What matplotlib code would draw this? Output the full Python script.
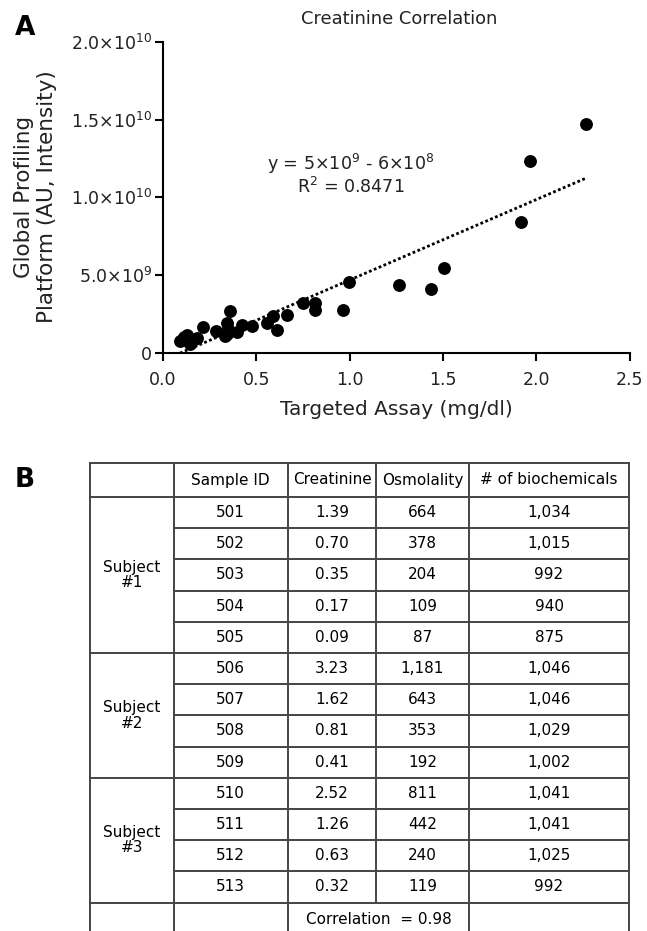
"""Creatinine correlation scatter (panel A) and sample table (panel B)."""

import matplotlib

matplotlib.use("Agg")
import matplotlib.pyplot as plt
import numpy as np

# ---- panel A data ----
assay_mgdl = [2.266, 1.966, 1.916, 1.507, 1.435, 1.266, 0.995, 0.962, 0.814,
              0.814, 0.752, 0.662, 0.587, 0.555, 0.612, 0.475, 0.421, 0.359,
              0.341, 0.344, 0.395, 0.284, 0.216, 0.127, 0.100, 0.145, 0.180,
              0.091, 0.115, 0.160, 0.350, 0.330]
intensity = [14.71e9, 12.35e9, 8.39e9, 5.46e9, 4.13e9, 4.37e9, 4.58e9, 2.76e9,
             3.19e9, 2.76e9, 3.23e9, 2.44e9, 2.35e9, 1.95e9, 1.48e9, 1.72e9,
             1.80e9, 2.68e9, 1.92e9, 1.20e9, 1.33e9, 1.41e9, 1.69e9, 1.16e9,
             0.83e9, 0.60e9, 0.94e9, 0.75e9, 1.00e9, 0.85e9, 1.55e9, 1.10e9]
fit_slope = 5.17e9
fit_intercept = -4.8e8
equation = "y = 5×10$^{9}$ - 6×10$^{8}$"
r_squared = "R$^{2}$ = 0.8471"

x_ticks = [0.0, 0.5, 1.0, 1.5, 2.0, 2.5]
y_ticks = [0, 5e9, 1e10, 1.5e10, 2e10]
y_tick_labels = ["0", "5.0×10$^{9}$", "1.0×10$^{10}$", "1.5×10$^{10}$",
                 "2.0×10$^{10}$"]

# ---- panel B data ----
header = ["", "Sample ID", "Creatinine", "Osmolality", "# of biochemicals"]
subjects = ["Subject\n#1", "Subject\n#2", "Subject\n#3"]
subject_rows = [5, 4, 4]
sample_ids = ["501", "502", "503", "504", "505", "506", "507", "508", "509",
              "510", "511", "512", "513"]
creatinine = ["1.39", "0.70", "0.35", "0.17", "0.09", "3.23", "1.62", "0.81",
              "0.41", "2.52", "1.26", "0.63", "0.32"]
osmolality = ["664", "378", "204", "109", "87", "1,181", "643", "353", "192",
              "811", "442", "240", "119"]
n_biochem = ["1,034", "1,015", "992", "940", "875", "1,046", "1,046", "1,029",
             "1,002", "1,041", "1,041", "1,025", "992"]
correlation = "Correlation  = 0.98"

W, H = 647, 931
TXT = "#222222"

fig = plt.figure(figsize=(W / 100, H / 100), dpi=100)

# ---------------- panel A ----------------
ax = fig.add_axes([163 / W, 1 - 353 / H, (629.7 - 163) / W, (353 - 41.7) / H])
ax.scatter(assay_mgdl, intensity, s=86, color="black", zorder=3, linewidths=0)
fx = np.array([min(assay_mgdl), max(assay_mgdl)])
ax.plot(fx, fit_slope * fx + fit_intercept, color="black", lw=2,
        linestyle=(0, (1, 0.9)), zorder=2)

ax.set_xlim(0, 2.5)
ax.set_ylim(0, 2e10)
ax.set_xticks(x_ticks)
ax.set_xticklabels([f"{t:.1f}" for t in x_ticks])
ax.set_yticks(y_ticks)
ax.set_yticklabels(y_tick_labels)
for side in ("top", "right"):
    ax.spines[side].set_visible(False)
for side in ("left", "bottom"):
    ax.spines[side].set_linewidth(1.5)
ax.tick_params(axis="both", direction="out", length=6, width=1.5,
               labelsize=12.5, labelcolor=TXT)
ax.tick_params(axis="x", pad=7)
ax.tick_params(axis="y", pad=2)
ax.set_xlabel("Targeted Assay (mg/dl)", fontsize=14.5, color=TXT, labelpad=8)

ax.text(0.403, 0.608, equation, transform=ax.transAxes, ha="center",
        va="center", fontsize=12.6, color=TXT)
ax.text(0.403, 0.533, r_squared, transform=ax.transAxes, ha="center",
        va="center", fontsize=12.6, color=TXT)

fig.text(399 / W, 1 - 19 / H, "Creatinine Correlation", ha="center",
         va="center", fontsize=12.9, color=TXT)
fig.text(24 / W, 1 - 197 / H, "Global Profiling", rotation=90, ha="center",
         va="center", fontsize=15.5, color=TXT)
fig.text(47 / W, 1 - 197 / H, "Platform (AU, Intensity)", rotation=90,
         ha="center", va="center", fontsize=15.5, color=TXT)
fig.text(25 / W, 1 - 28 / H, "A", ha="center", va="center", fontsize=19,
         fontweight="bold")
fig.text(25 / W, 1 - 480 / H, "B", ha="center", va="center", fontsize=19,
         fontweight="bold")

# ---------------- panel B ----------------
tab = fig.add_axes([0, 0, 1, 1], zorder=-1)
tab.set_xlim(0, W)
tab.set_ylim(H, 0)
tab.axis("off")

col_edges = [90, 173.5, 288, 376, 469, 629]
top, head_bot = 463, 497
n_rows = len(sample_ids)
row_h = (902.5 - head_bot) / n_rows
row_edges = [head_bot + i * row_h for i in range(n_rows + 1)]
line_kw = dict(color="#444444", lw=1.4)

# horizontal lines
tab.plot([col_edges[0], col_edges[-1]], [top, top], **line_kw)
tab.plot([col_edges[0], col_edges[-1]], [head_bot, head_bot], **line_kw)
group_ends = np.cumsum(subject_rows)
for i in range(1, n_rows + 1):
    x0 = col_edges[0] if i in group_ends else col_edges[1]
    tab.plot([x0, col_edges[-1]], [row_edges[i], row_edges[i]], **line_kw)

# vertical lines (osmolality divider stops above the merged correlation cell)
for j, xe in enumerate(col_edges):
    y1 = row_edges[-1] if j == 3 else H
    tab.plot([xe, xe], [top, y1], **line_kw)

cx = [(col_edges[j] + col_edges[j + 1]) / 2 for j in range(len(col_edges) - 1)]
fs = 11
for j, h in enumerate(header):
    tab.text(cx[j], (top + head_bot) / 2, h, ha="center", va="center",
             fontsize=fs)
for i in range(n_rows):
    yc = (row_edges[i] + row_edges[i + 1]) / 2
    for j, col in enumerate((sample_ids, creatinine, osmolality, n_biochem)):
        tab.text(cx[j + 1], yc, col[i], ha="center", va="center", fontsize=fs)

start = 0
for name, n in zip(subjects, subject_rows):
    yc = (row_edges[start] + row_edges[start + n]) / 2
    tab.text(cx[0], yc, name, ha="center", va="center", fontsize=fs,
             linespacing=1.05)
    start += n

tab.text((col_edges[2] + col_edges[4]) / 2, 919, correlation, ha="center",
         va="center", fontsize=fs)

fig.savefig("out.png", dpi=100)
